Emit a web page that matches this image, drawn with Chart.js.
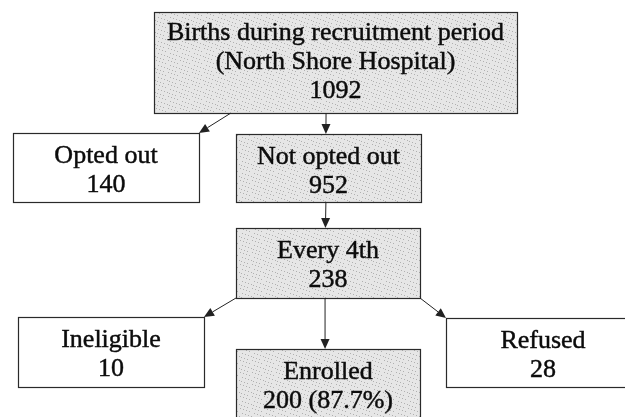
<!DOCTYPE html>
<html>
<head>
<meta charset="utf-8">
<script src="https://cdn.jsdelivr.net/npm/chart.js@4.4.1/dist/chart.umd.min.js"></script>
<style>
    html, body { margin: 0; padding: 0; background: #fff; }
    #wrap { width: 625px; height: 417px; }
</style>
</head>
<body>
<div id="wrap"><canvas id="flowChart" width="625" height="417"></canvas></div>
<script>
// flow data
const nodeTitles = [
    ['Births during recruitment period', '(North Shore Hospital)'],
    ['Opted out'],
    ['Not opted out'],
    ['Every 4th'],
    ['Ineligible'],
    ['Enrolled'],
    ['Refused']
];
const nodeCounts = [1092, 140, 952, 238, 10, 200, 28];
const nodeNotes = ['', '', '', '', '', '(87.7%)', ''];
const nodeShaded = [true, false, true, true, false, true, false];
const edgeFrom = [0, 0, 2, 3, 3, 3];
const edgeTo = [1, 2, 3, 4, 5, 6];

// layout, in axis units (x 0..625, y 0..417 top-down)
const boxes = [
    [154, 12, 517, 113],
    [13, 133, 199, 202],
    [236, 134, 421, 202],
    [236, 228, 420, 298],
    [18, 317, 204, 387],
    [236, 349, 420, 440],
    [446, 318, 640, 387]
];
const edgeAnchors = [
    [[0.212, 1], [1, 0]],
    [[0.474, 1], [0.486, 0]],
    [[0.486, 1], [0.486, 0]],
    [[0, 1], [1, 0]],
    [[0.484, 1], [0.484, 0]],
    [[1, 1], [0, 0]]
];

(function () {
    'use strict';

    function stipple(ctx) {
        const c = document.createElement('canvas');
        c.width = 12; c.height = 12;
        const g = c.getContext('2d');
        g.fillStyle = '#e6e6e6';
        g.fillRect(0, 0, 12, 12);
        g.fillStyle = '#b0b0b0';
        for (let i = 0; i < 12; i++) {
            for (let j = 0; j < 12; j++) {
                if ((i * 7 + j * 5) % 13 === 0) g.fillRect(i, j, 1, 1);
            }
        }
        return ctx.createPattern(c, 'repeat');
    }

    function anchorPx(xs, ys, box, a) {
        const x = box[0] + (box[2] - box[0]) * a[0];
        const y = box[1] + (box[3] - box[1]) * a[1];
        return [xs.getPixelForValue(x), ys.getPixelForValue(y)];
    }

    const flowPlugin = {
        id: 'flow',
        afterDraw(chart) {
            const ctx = chart.ctx;
            const xs = chart.scales.x, ys = chart.scales.y;
            const fill = stipple(ctx);

            ctx.save();
            // boxes
            boxes.forEach(function (b, i) {
                const x0 = xs.getPixelForValue(b[0]), x1 = xs.getPixelForValue(b[2]);
                const y0 = ys.getPixelForValue(b[1]), y1 = ys.getPixelForValue(b[3]);
                ctx.fillStyle = nodeShaded[i] ? fill : '#fff';
                ctx.fillRect(x0, y0, x1 - x0, y1 - y0);
                ctx.strokeStyle = '#2a2a2a';
                ctx.lineWidth = 1.2;
                ctx.strokeRect(Math.round(x0) + 0.5, Math.round(y0) + 0.5, Math.round(x1 - x0), Math.round(y1 - y0));

                const lines = nodeTitles[i].slice();
                lines.push(String(nodeCounts[i]) + (nodeNotes[i] ? ' ' + nodeNotes[i] : ''));
                ctx.fillStyle = '#0c0c0c';
                ctx.strokeStyle = '#0c0c0c';
                ctx.lineWidth = 0.45;
                ctx.font = '26px "Liberation Serif", "Times New Roman", serif';
                ctx.textAlign = 'center';
                ctx.textBaseline = 'alphabetic';
                const cx = (x0 + x1) / 2;
                const first = y0 + (lines.length === 3 ? 28 : 30);
                lines.forEach(function (t, k) {
                    ctx.fillText(t, cx, first + k * 29);
                    ctx.strokeText(t, cx, first + k * 29);
                });
            });

            // arrows
            ctx.strokeStyle = '#222';
            ctx.fillStyle = '#222';
            ctx.lineWidth = 1;
            edgeFrom.forEach(function (f, i) {
                const p = anchorPx(xs, ys, boxes[f], edgeAnchors[i][0]);
                const q = anchorPx(xs, ys, boxes[edgeTo[i]], edgeAnchors[i][1]);
                const ang = Math.atan2(q[1] - p[1], q[0] - p[0]);
                const len = 10, half = 4.5;
                const bx = q[0] - len * Math.cos(ang), by = q[1] - len * Math.sin(ang);
                ctx.beginPath();
                ctx.moveTo(p[0], p[1]);
                ctx.lineTo(bx, by);
                ctx.stroke();
                ctx.beginPath();
                ctx.moveTo(q[0], q[1]);
                ctx.lineTo(bx + half * Math.sin(ang), by - half * Math.cos(ang));
                ctx.lineTo(bx - half * Math.sin(ang), by + half * Math.cos(ang));
                ctx.closePath();
                ctx.fill();
            });
            ctx.restore();
        }
    };

    const centers = boxes.map(function (b) {
        return { x: (b[0] + b[2]) / 2, y: (b[1] + b[3]) / 2 };
    });

    new Chart(document.getElementById('flowChart').getContext('2d'), {
        type: 'scatter',
        data: { datasets: [{ data: centers, pointRadius: 0 }] },
        options: {
            responsive: false,
            animation: false,
            events: [],
            layout: { padding: 0 },
            plugins: { legend: { display: false }, tooltip: { enabled: false } },
            scales: {
                x: { type: 'linear', min: 0, max: 625, display: false },
                y: { type: 'linear', min: 0, max: 417, reverse: true, display: false }
            }
        },
        plugins: [flowPlugin]
    });
})();
</script>
</body>
</html>
